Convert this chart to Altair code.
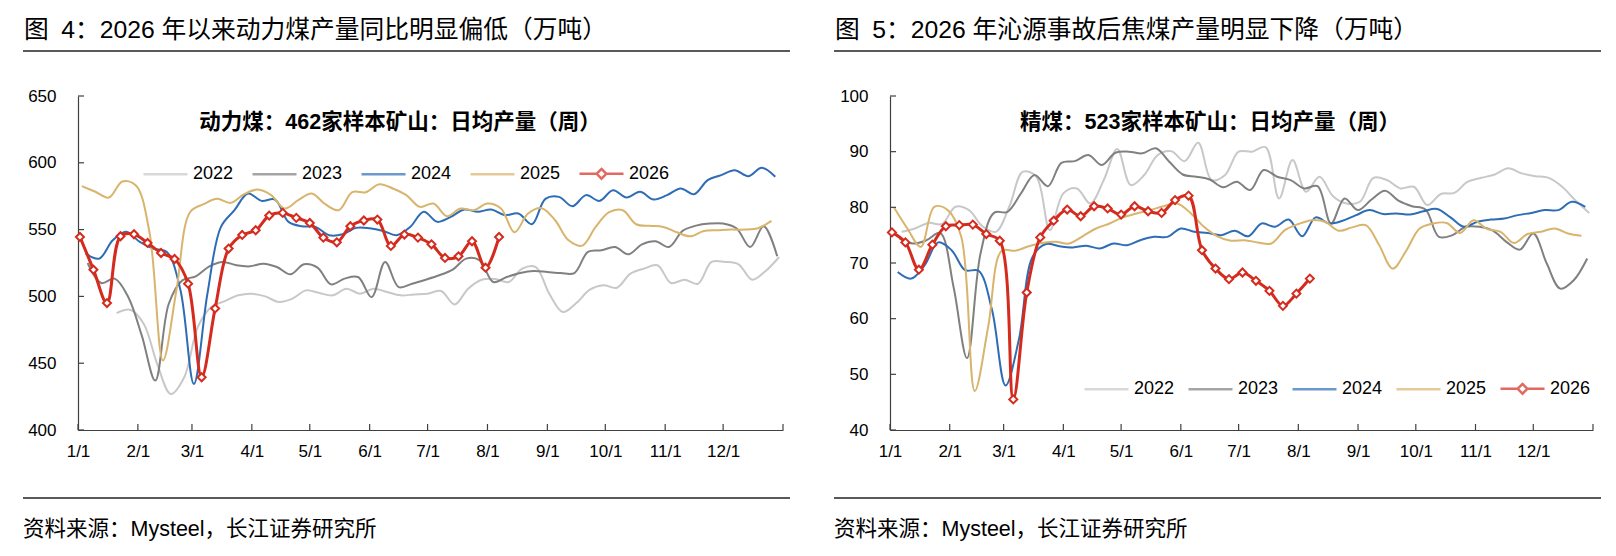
import altair as alt
import pandas as pd

FONT = "Liberation Sans, Noto Sans CJK SC, sans-serif"
AXC = "#404040"

years = ["2022", "2023", "2024", "2025", "2026"]
colors = ["#C8C8C8", "#808080", "#2E6DB5", "#D9B46C", "#D52B1E"]
RED = "#D52B1E"

# weekly series (Friday readings), left panel: thermal coal, 462 mines (10k t/day)
left_start = {"2022": "2022-01-21", "2023": "2023-01-06", "2024": "2024-01-05",
              "2025": "2025-01-03", "2026": "2026-01-02"}
L2022 = [487.5, 490, 479.5, 449.5, 427, 439.5, 477, 492, 496.5, 500.8, 502, 500, 495.8, 498.3,
         504.5, 502.5, 500.8, 505.8, 502, 505.8, 503.3, 500.8, 501.5, 502, 504, 494, 505.8, 512.5,
         513, 510.8, 520.8, 522, 502, 488.3, 495, 505, 508.3, 506.5, 517, 520.8, 523.3, 510,
         512.5, 509.5, 525.8, 525.8, 524, 512.5, 519, 529.5]
L2023 = [525, 510, 513.3, 499.5, 470.8, 437, 494.5, 512, 515, 522.5, 525.8, 523.3, 522.5, 524.5,
         522, 516.5, 524, 521.5, 509, 513.3, 514.5, 499.5, 525.8, 507, 509.5, 512.5, 515.8, 520,
         528.3, 527, 510.8, 514.5, 517.5, 519, 518.3, 517.5, 517.5, 533.3, 534.5, 537, 531.5,
         539, 541.3, 537, 549, 553, 554.5, 554.5, 550.8, 537, 552.5, 530]
L2024 = [532, 528.3, 542, 548.3, 540.8, 535.8, 533.3, 505, 434.5, 502, 552, 564.5, 577, 571.5,
         572.5, 555.8, 552.5, 552, 545.8, 546.5, 551.3, 551, 549, 545.8, 552, 563.3, 555.8, 559.5,
         565, 563.3, 565, 560.8, 562, 554, 573, 574.5, 567.5, 575.8, 571.5, 579.5, 574, 578.3,
         572.5, 575.8, 580.8, 576.5, 587, 590.8, 594.5, 590, 596.3, 589.5]
L2025 = [582.5, 578.3, 574, 586, 583, 548, 452, 505, 563, 569, 573, 570, 576.5, 580, 575.8,
         565.8, 572, 577, 569, 564.5, 578, 578, 584, 580.8, 575.8, 567, 569.5, 560, 565.8, 564.5,
         569.5, 565.8, 548, 562, 566, 557, 542, 538, 552, 563, 564.5, 554, 552.8, 552, 548, 545,
         549, 549.5, 550, 550, 551, 556.5]
L2026 = [544.5, 520, 495, 545, 546.5, 540, 532.5, 528, 509.5, 439.5, 491, 535.8, 546, 549.5,
         560.5, 562.5, 558.8, 555, 544, 540.5, 552.5, 556.8, 557.5, 537.8, 546.3, 544, 539,
         528.8, 530, 541.3, 521.5, 544.5]

# right panel: coking coal, 523 mines (10k t/day)
right_start = {"2022": "2022-01-07", "2023": "2023-01-06", "2024": "2024-01-05",
               "2025": "2025-01-03", "2026": "2026-01-02"}
R2022 = [75.6, 76.2, 77.2, 77.0, 80.1, 79.5, 76.6, 75.6, 80.2, 86.4, 85.5, 75.9, 82.5, 83.4,
         80.7, 84.9, 90.5, 84.0, 85.8, 89.4, 90.1, 88.3, 91.6, 84.9, 85.8, 90.0, 90.0, 90.8,
         81.6, 88.5, 82.8, 85.5, 82.0, 80.7, 81.0, 85.3, 84.9, 83.4, 83.7, 80.4, 82.4, 82.6,
         84.6, 85.3, 85.9, 87.0, 86.1, 85.6, 85.3, 83.7, 81.2, 79.0]
R2023 = [74.4, 73.5, 74.1, 75.4, 65.7, 52.9, 71.7, 79.0, 79.2, 82.5, 85.8, 83.8, 88.0, 88.3,
         89.4, 87.6, 89.8, 90.0, 89.7, 90.6, 88.2, 85.9, 85.5, 85.0, 83.6, 84.6, 83.1, 86.7,
         85.5, 84.9, 83.4, 83.8, 77.1, 81.6, 79.5, 81.4, 83.0, 81.2, 80.2, 79.6, 74.7, 75.0,
         76.5, 76.5, 75.8, 73.8, 72.4, 75.3, 69.9, 65.4, 66.9, 70.8]
R2024 = [68.4, 67.2, 69.6, 73.7, 72.3, 68.7, 68.6, 61.5, 48.0, 56.4, 71.1, 73.4, 73.0, 72.8,
         73.1, 72.6, 73.5, 73.2, 74.1, 74.7, 74.7, 76.2, 75.6, 75.4, 75.0, 75.8, 74.8, 77.1,
         76.5, 77.8, 74.8, 78.2, 77.1, 77.6, 78.6, 79.5, 78.8, 78.9, 78.7, 79.3, 79.7, 78.2,
         76.5, 77.4, 77.8, 78.0, 78.6, 79.0, 79.5, 79.5, 81.0, 80.1]
R2025 = [80.0, 76.2, 72.9, 80.1, 79.5, 74.7, 47.0, 58.6, 72.2, 72.2, 73.0, 73.6, 73.8, 73.5,
         74.8, 76.2, 77.1, 78.2, 78.9, 79.5, 80.2, 80.7, 79.0, 76.5, 74.8, 74.0, 74.1, 73.7,
         73.5, 75.9, 77.0, 77.7, 77.4, 75.8, 76.4, 76.8, 73.2, 69.0, 72.2, 76.2, 77.1, 77.2,
         75.4, 77.7, 76.1, 75.6, 73.6, 75.2, 75.6, 76.2, 75.3, 74.9]
R2026 = [75.5, 73.7, 68.8, 73.3, 76.6, 76.8, 76.9, 75.2, 74.0, 45.5, 64.7, 74.6, 77.6, 79.6,
         78.4, 80.2, 79.8, 78.7, 80.2, 79.3, 79.0, 81.3, 82.1, 72.3, 69.0, 67.1, 68.3, 66.8,
         65.0, 62.3, 64.5, 67.2]

month_ticks = [f"2026-{m:02d}-01" for m in range(1, 13)] + ["2027-01-01"]

LINE_PATH = "M-1,0H1"
MARK_PATH = "M-1,0H-0.22M0.22,0H1M0,-0.22L0.22,0L0,0.22L-0.22,0Z"


def build_df(series, starts):
    rows = []
    for yr, vals in series.items():
        dates = pd.date_range(starts[yr], periods=len(vals), freq="7D")
        base = pd.Timestamp(f"{yr}-01-01")
        for d, v in zip(dates, vals):
            rows.append({"year": yr, "date": pd.Timestamp("2026-01-01") + (d - base), "v": v})
    return pd.DataFrame(rows)


def panel(df, ydom, ystep, W, H, title, inner, inner_x, leg_x, leg_y, col_pad, lo, hi):
    xenc = alt.X("date:T",
                 scale=alt.Scale(domain=[alt.DateTime(year=2026, month=1, date=1),
                                         alt.DateTime(year=2027, month=1, date=1)]),
                 axis=alt.Axis(values=[alt.DateTime(year=2026, month=m, date=1) for m in range(1, 13)],
                               format="%-m/%-d", title=None, grid=False, ticks=False, tickSize=0,
                               labelPadding=13, labelFontSize=17, labelFont=FONT, labelColor="#000",
                               labelFlush=False, labelOverlap=False, domainColor=AXC, domainWidth=1.2))
    yvals = list(range(ydom[0], ydom[1] + 1, ystep))
    yenc = alt.Y("v:Q", scale=alt.Scale(domain=ydom, nice=False, zero=False),
                 axis=alt.Axis(values=yvals, title=None, grid=False, ticks=False, tickSize=0,
                               labelPadding=22, labelFontSize=17, labelFont=FONT, labelColor="#000",
                               domainColor=AXC, domainWidth=1.2))
    legend = alt.Legend(orient="none", legendX=leg_x, legendY=leg_y, direction="horizontal",
                        columns=5, title=None, labelFontSize=18, labelFont=FONT, labelColor="#000",
                        symbolSize=1936, symbolStrokeWidth=2.5,
                        labelOffset=4, columnPadding=col_pad, padding=0)
    color = alt.Color("year:N", scale=alt.Scale(domain=years, range=colors), legend=legend)
    shape = alt.Shape("year:N", scale=alt.Scale(domain=years, range=[LINE_PATH] * 4 + [MARK_PATH]),
                      legend=legend)
    base = alt.Chart(df)
    old = base.transform_filter(alt.datum.year != "2026").mark_line(
        interpolate="catmull-rom", strokeWidth=2).encode(x=xenc, y=yenc, color=color)
    new = base.transform_filter(alt.datum.year == "2026").mark_line(
        interpolate="catmull-rom", strokeWidth=3).encode(x=xenc, y=yenc, color=color)
    pts = base.transform_filter(alt.datum.year == "2026").mark_point(
        shape="diamond", filled=True, fill="white", stroke=RED, strokeWidth=2, size=64,
        opacity=1).encode(x=xenc, y=yenc)
    # legend-only layer (no rows pass the filter): merges shape with colour legend
    leg = base.transform_filter("false").mark_point(filled=False).encode(
        x=xenc, y=yenc, color=color, shape=shape)

    tdf = pd.DataFrame({"date": pd.to_datetime(month_ticks)})
    xticks = alt.Chart(tdf).mark_rule(color=AXC, strokeWidth=1.2).encode(
        x=alt.X("date:T"), y=alt.value(H), y2=alt.value(H - 6))
    ydf = pd.DataFrame({"v": yvals})
    yticks = alt.Chart(ydf).mark_rule(color=AXC, strokeWidth=1.2).encode(
        y=alt.Y("v:Q"), x=alt.value(0), x2=alt.value(6))

    one = pd.DataFrame({"title": [title], "inner": [inner], "src": ["资料来源：Mysteel，长江证券研究所"]})
    ann = alt.Chart(one)
    t1 = ann.mark_text(align="left", baseline="middle", fontSize=24.75, font=FONT, color="#000").encode(
        text="title:N", x=alt.value(lo + 1), y=alt.value(-65))
    r1 = ann.mark_rule(color="#222", strokeWidth=1.6).encode(
        x=alt.value(lo), x2=alt.value(hi), y=alt.value(-45))
    t2 = ann.mark_text(align="center", baseline="middle", fontSize=21.5, fontWeight="bold",
                       font=FONT, color="#000").encode(text="inner:N", x=alt.value(inner_x), y=alt.value(27))
    r2 = ann.mark_rule(color="#222", strokeWidth=1.6).encode(
        x=alt.value(lo), x2=alt.value(hi), y=alt.value(402))
    t3 = ann.mark_text(align="left", baseline="middle", fontSize=21.5, font=FONT, color="#000").encode(
        text="src:N", x=alt.value(lo), y=alt.value(434))

    return alt.layer(old, new, pts, leg, xticks, yticks, t1, r1, t2, r2, t3).properties(width=W, height=H)


left_df = build_df({"2022": L2022, "2023": L2023, "2024": L2024, "2025": L2025, "2026": L2026}, left_start)
right_df = build_df({"2022": R2022, "2023": R2023, "2024": R2024, "2025": R2025, "2026": R2026}, right_start)

left = panel(left_df, [400, 650], 50, 705, 334,
             "图\u20024：2026 年以来动力煤产量同比明显偏低（万吨）",
             "动力煤：462家样本矿山：日均产量（周）", 322, 64, 54, 13, -55, 712)
right = panel(right_df, [40, 100], 10, 703, 334,
              "图\u20025：2026 年沁源事故后焦煤产量明显下降（万吨）",
              "精煤：523家样本矿山：日均产量（周）", 320, 193, 269, 8, -56, 711)

chart = alt.hconcat(left, right, spacing=107, bounds="flush").resolve_scale(
    color="independent", shape="independent"
).resolve_legend(
    color="independent", shape="independent"
).properties(
    padding={"left": 14, "top": 10, "right": 5, "bottom": 5}
).configure_view(stroke=None)

chart.save("out.html", embed_options={"renderer": "svg", "actions": False})
